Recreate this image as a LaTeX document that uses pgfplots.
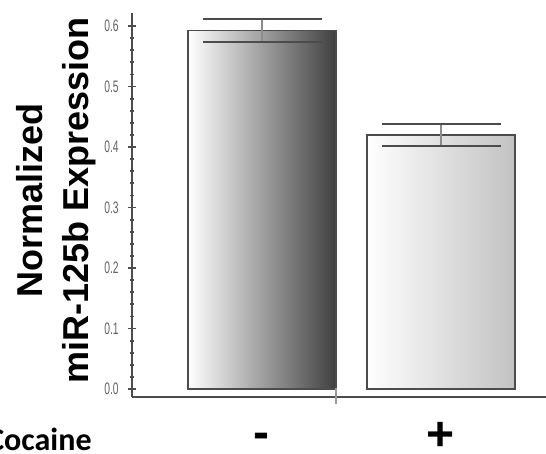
\documentclass[border=0pt]{standalone}
\usepackage{pgfplots}
\pgfplotsset{compat=1.18}
\usepackage{fontspec}
\setmainfont{Liberation Sans}
\newfontfamily\tickfont[FakeStretch=0.62]{Liberation Sans}
\newfontfamily\carlito{Carlito}
\begin{document}
\begin{tikzpicture}
\begin{axis}[
  x=0.5pt, y=302.5pt,
  xmin=132, xmax=546, ymin=-0.0132, ymax=0.6215,
  axis lines=left,
  axis line style={-, draw=black!70, line width=0.9pt},
  ytick={0,0.1,0.2,0.3,0.4,0.5,0.6},
  minor y tick num=4,
  ytick align=center,
  major tick length=4pt, minor tick length=2pt,
  tick style={draw=black!70, line width=0.9pt},
  xtick=\empty,
  /pgf/number format/assume math mode=true,
  yticklabel={\pgfmathprintnumber[fixed,fixed zerofill,precision=1]{\tick}},
  yticklabel style={font=\tickfont\fontsize{8.3}{9}\selectfont, text=black!62, anchor=east, inner sep=0pt, xshift=-4.5pt},
  clip=false,
]
\addplot[ybar, bar width=148, bar shift=0pt, draw=black!70, line width=0.7pt, left color=white, right color=black!75] coordinates {(262,0.593)};
\addplot[ybar, bar width=148, bar shift=0pt, draw=black!70, line width=0.7pt, left color=white, right color=black!24] coordinates {(441,0.420)};
\addplot[draw=none, mark=none, error bars/.cd, y dir=both, y explicit, error mark=|,
  error bar style={draw=black!45, line width=0.7pt},
  error mark options={draw=black!70, line width=1pt, mark size=29.75pt}]
  coordinates {(262,0.593) +- (0,0.019) (441,0.420) +- (0,0.018)};
\draw[black!40, line width=0.7pt] (axis cs:336,0.0017) -- (axis cs:336,-0.0248);
\node[font=\bfseries\fontsize{24}{24}\selectfont, inner sep=0pt] at (axis cs:261,-0.086) {-};
\node[font=\bfseries\fontsize{24}{24}\selectfont, inner sep=0pt] at (axis cs:441,-0.079) {+};
\node[font=\carlito\bfseries\fontsize{16}{16}\selectfont, anchor=base east, inner sep=0pt] at (axis cs:92,-0.1008) {Cocaine};
\node[font=\bfseries\fontsize{18}{23}\selectfont, align=center, rotate=90] at (axis cs:56,0.312) {Normalized\\miR-125b Expression};
\coordinate (BL) at (axis cs:0,-0.1058);
\coordinate (TR) at (axis cs:546,0.643);
\end{axis}
\pgfresetboundingbox
\path[use as bounding box] (BL) rectangle (TR);
\end{tikzpicture}
\end{document}
